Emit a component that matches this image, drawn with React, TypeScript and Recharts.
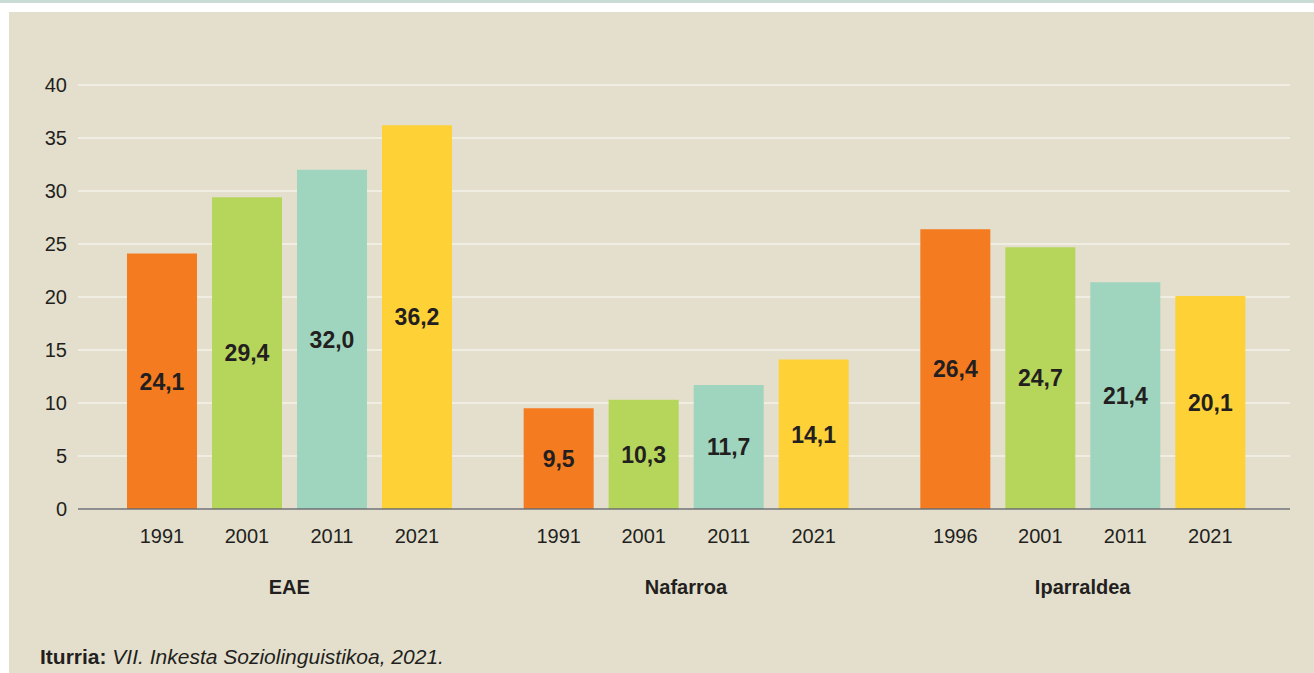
import React from 'react';
import { BarChart, Bar, XAxis, YAxis, CartesianGrid, LabelList } from 'recharts';

const groups = ['EAE', 'Nafarroa', 'Iparraldea'];
const wave1 = [24.1, 9.5, 26.4];
const wave2 = [29.4, 10.3, 24.7];
const wave3 = [32.0, 11.7, 21.4];
const wave4 = [36.2, 14.1, 20.1];
const wave1Years = ['1991', '1991', '1996'];
const wave2Years = ['2001', '2001', '2001'];
const wave3Years = ['2011', '2011', '2011'];
const wave4Years = ['2021', '2021', '2021'];
const yTicks = [0, 5, 10, 15, 20, 25, 30, 35, 40];

const data = groups.map((g, i) => ({
  group: g,
  w1: wave1[i],
  w2: wave2[i],
  w3: wave3[i],
  w4: wave4[i],
  y1: wave1Years[i],
  y2: wave2Years[i],
  y3: wave3Years[i],
  y4: wave4Years[i],
}));

const FONT = '"Liberation Sans", Arial, Helvetica, sans-serif';
const INK = '#231f20';

const fmt = (v: number) => v.toFixed(1).replace('.', ',');

const ValueLabel = (props: any) => {
  const vb = props.viewBox || props;
  const { x, y, width, height } = vb;
  return (
    <text
      x={x + width / 2}
      y={y + height / 2}
      dy="0.36em"
      textAnchor="middle"
      fill={INK}
      fontFamily={FONT}
      fontSize={23}
      fontWeight="bold"
    >
      {fmt(Number(props.value))}
    </text>
  );
};

const YearLabel = (props: any) => {
  const vb = props.viewBox || props;
  const { x, y, width, height } = vb;
  return (
    <text
      x={x + width / 2}
      y={y + height + 34}
      textAnchor="middle"
      fill={INK}
      fontFamily={FONT}
      fontSize={20}
    >
      {props.value}
    </text>
  );
};

const GroupTick = (props: any) => {
  const { x, y, payload } = props;
  return (
    <text x={x} y={y + 77} textAnchor="middle" fill={INK} fontFamily={FONT} fontSize={20} fontWeight="bold">
      {payload.value}
    </text>
  );
};

const series = [
  { key: 'w1', year: 'y1', color: '#f47b20' },
  { key: 'w2', year: 'y2', color: '#b6d55b' },
  { key: 'w3', year: 'y3', color: '#9fd5be' },
  { key: 'w4', year: 'y4', color: '#fed136' },
];

export default function App() {
  return (
    <div style={{ position: 'fixed', left: 0, top: 0, width: 1314, height: 673, background: '#ffffff', fontFamily: FONT }}>
      <div style={{ position: 'absolute', left: 0, top: 0, width: 1314, height: 3, background: '#c8dbd5' }} />
      <div style={{ position: 'absolute', left: 9, top: 12, width: 1305, height: 661, background: '#e4dfcd' }} />
      <div style={{ position: 'absolute', left: 0, top: 0 }}>
        <BarChart
          width={1314}
          height={673}
          data={data}
          margin={{ top: 85, right: 24, bottom: 134, left: 18 }}
          barSize={70}
          barGap={15}
        >
          <CartesianGrid horizontal vertical={false} stroke="#f5f2ea" strokeWidth={1.5} />
          <XAxis
            dataKey="group"
            height={30}
            padding={{ left: 13, right: 9 }}
            axisLine={{ stroke: '#6d6e70', strokeWidth: 1.5 }}
            tickLine={false}
            tick={<GroupTick />}
            interval={0}
          />
          <YAxis
            width={60}
            domain={[0, 40]}
            ticks={yTicks}
            axisLine={false}
            tickLine={false}
            tickMargin={5}
            tick={{ fill: INK, fontSize: 20, fontFamily: FONT }}
          />
          {series.map((s) => (
            <Bar key={s.key} dataKey={s.key} fill={s.color} isAnimationActive={false}>
              <LabelList dataKey={s.key} content={<ValueLabel />} />
              <LabelList dataKey={s.year} content={<YearLabel />} />
            </Bar>
          ))}
        </BarChart>
      </div>
      <div style={{ position: 'absolute', left: 40, top: 645, fontSize: 21, color: INK, whiteSpace: 'nowrap' }}>
        <b>Iturria:</b> <i>VII. Inkesta Soziolinguistikoa, 2021.</i>
      </div>
    </div>
  );
}
